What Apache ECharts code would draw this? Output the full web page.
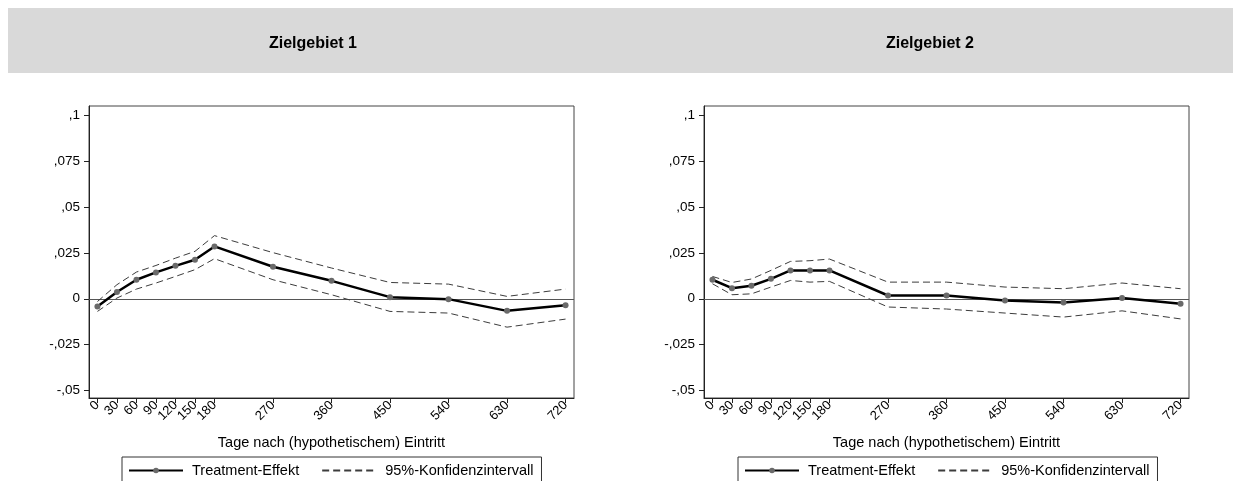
<!DOCTYPE html>
<html>
<head>
<meta charset="utf-8">
<script src="https://cdn.jsdelivr.net/npm/echarts@6/dist/echarts.min.js"></script>
<style>
html,body{margin:0;padding:0;background:#fff;}
#chart{width:1233px;height:481px;}
</style>
</head>
<body>
<div id="chart"></div>
<script>
// ---- data ----
var days = [0, 30, 60, 90, 120, 150, 180, 270, 360, 450, 540, 630, 720];
var xTickValues = [0, 30, 60, 90, 120, 150, 180, 270, 360, 450, 540, 630, 720];
var yTickValues = [-0.05, -0.025, 0, 0.025, 0.05, 0.075, 0.1];
var yTickLabels = ['-,05', '-,025', '0', ',025', ',05', ',075', ',1'];
var panelTitles = ['Zielgebiet 1', 'Zielgebiet 2'];
var xAxisTitle = 'Tage nach (hypothetischem) Eintritt';
var seriesNames = ['Treatment-Effekt', '95%-Konfidenzintervall'];

// Zielgebiet 1
var effect1 = [-0.0042, 0.0037, 0.0104, 0.0144, 0.0180, 0.0213, 0.0286, 0.0175, 0.0098, 0.0009, -0.0002, -0.0066, -0.0035];
var upper1  = [-0.0015, 0.0077, 0.0146, 0.0182, 0.0222, 0.0259, 0.0345, 0.0252, 0.0168, 0.0089, 0.0080, 0.0013, 0.0053];
var lower1  = [-0.0069, 0.0004, 0.0053, 0.0086, 0.0122, 0.0159, 0.0219, 0.0104, 0.0022, -0.0069, -0.0078, -0.0155, -0.0111];

// Zielgebiet 2
var effect2 = [0.0104, 0.0058, 0.0071, 0.0109, 0.0155, 0.0155, 0.0155, 0.0018, 0.0018, -0.0009, -0.0020, 0.0004, -0.0027];
var upper2  = [0.0122, 0.0089, 0.0108, 0.0155, 0.0204, 0.0208, 0.0217, 0.0091, 0.0091, 0.0064, 0.0055, 0.0086, 0.0055];
var lower2  = [0.0082, 0.0022, 0.0027, 0.0064, 0.0100, 0.0091, 0.0095, -0.0045, -0.0056, -0.0078, -0.0100, -0.0066, -0.0110];

function pairs(vals) { return days.map(function (d, i) { return [d, vals[i]]; }); }

var FONT = '"Liberation Sans", Arial, sans-serif';
var panels = [
  { left: 89, effect: effect1, upper: upper1, lower: lower1, legendLeft: 122, titleX: 308 },
  { left: 704, effect: effect2, upper: upper2, lower: lower2, legendLeft: 738, titleX: 925 }
];
var gridW = 485;

var grids = [], xAxes = [], yAxes = [], series = [], legends = [], titles = [];
panels.forEach(function (p, k) {
  grids.push({ left: p.left, top: 106, width: gridW, height: 292, show: true,
    borderColor: '#444', borderWidth: 1, backgroundColor: '#fff' });
  xAxes.push({
    type: 'value', gridIndex: k, min: -13, max: 733,
    name: xAxisTitle, nameLocation: 'middle', nameGap: 37,
    nameTextStyle: { fontFamily: FONT, fontSize: 14.5, color: '#000' },
    axisLine: { onZero: false, lineStyle: { color: '#222', width: 1 } },
    axisTick: { show: true, length: 5, customValues: xTickValues, lineStyle: { color: '#222' } },
    axisLabel: { customValues: xTickValues, rotate: 45, margin: 5, hideOverlap: false,
      fontFamily: FONT, fontSize: 13, color: '#000' },
    splitLine: { show: false }
  });
  yAxes.push({
    type: 'value', gridIndex: k, min: -0.0542, max: 0.1053,
    axisLine: { show: true, onZero: false, lineStyle: { color: '#222', width: 1 } },
    axisTick: { show: true, length: 5, customValues: yTickValues, lineStyle: { color: '#222' } },
    axisLabel: { customValues: yTickValues, margin: 9, hideOverlap: false, fontFamily: FONT, fontSize: 13.5, color: '#000',
      formatter: function (v) {
        for (var i = 0; i < yTickValues.length; i++) { if (Math.abs(yTickValues[i] - v) < 1e-9) return yTickLabels[i]; }
        return '';
      } },
    splitLine: { show: false }
  });
  var ciStyle = { color: '#3c3c3c', width: 1, type: [7, 4] };
  series.push({ name: seriesNames[1], type: 'line', xAxisIndex: k, yAxisIndex: k, data: pairs(p.upper),
    symbol: 'none', lineStyle: ciStyle, itemStyle: { color: '#3c3c3c' }, silent: true, z: 2 });
  series.push({ name: seriesNames[1], type: 'line', xAxisIndex: k, yAxisIndex: k, data: pairs(p.lower),
    symbol: 'none', lineStyle: ciStyle, itemStyle: { color: '#3c3c3c' }, silent: true, z: 2 });
  series.push({ name: seriesNames[0], type: 'line', xAxisIndex: k, yAxisIndex: k, data: pairs(p.effect),
    symbol: 'circle', symbolSize: 6, showSymbol: true,
    lineStyle: { color: '#000', width: 2.5 }, itemStyle: { color: '#6a6a6a' }, silent: true, z: 3,
    markLine: { silent: true, symbol: 'none', label: { show: false },
      lineStyle: { color: '#555', width: 1, type: 'solid' }, data: [{ yAxis: 0 }], z: 1 } });
  legends.push({
    left: p.legendLeft, top: 457, orient: 'horizontal',
    data: [
      { name: seriesNames[0] },
      { name: seriesNames[1], itemStyle: { color: 'rgba(0,0,0,0)', borderWidth: 0 } }
    ],
    itemWidth: 54, itemHeight: 7, itemGap: 22,
    padding: [6, 8, 12, 6],
    borderColor: '#333', borderWidth: 1, backgroundColor: '#fff',
    selectedMode: false,
    textStyle: { fontFamily: FONT, fontSize: 14.5, color: '#000', padding: [0, 0, 0, 4] }
  });
  titles.push({ text: panelTitles[k], left: p.titleX, top: 31, textAlign: 'center',
    textStyle: { fontFamily: FONT, fontSize: 16, fontWeight: 'bold', color: '#000' } });
});

var chart = echarts.init(document.getElementById('chart'), null, { renderer: 'canvas' });
chart.setOption({
  backgroundColor: '#fff',
  animation: false,
  graphic: [{ type: 'rect', left: 8, top: 8, z: -10, shape: { width: 1225, height: 65 }, style: { fill: '#d9d9d9' } }],
  title: titles,
  grid: grids,
  xAxis: xAxes,
  yAxis: yAxes,
  legend: legends,
  series: series
});
</script>
</body>
</html>
